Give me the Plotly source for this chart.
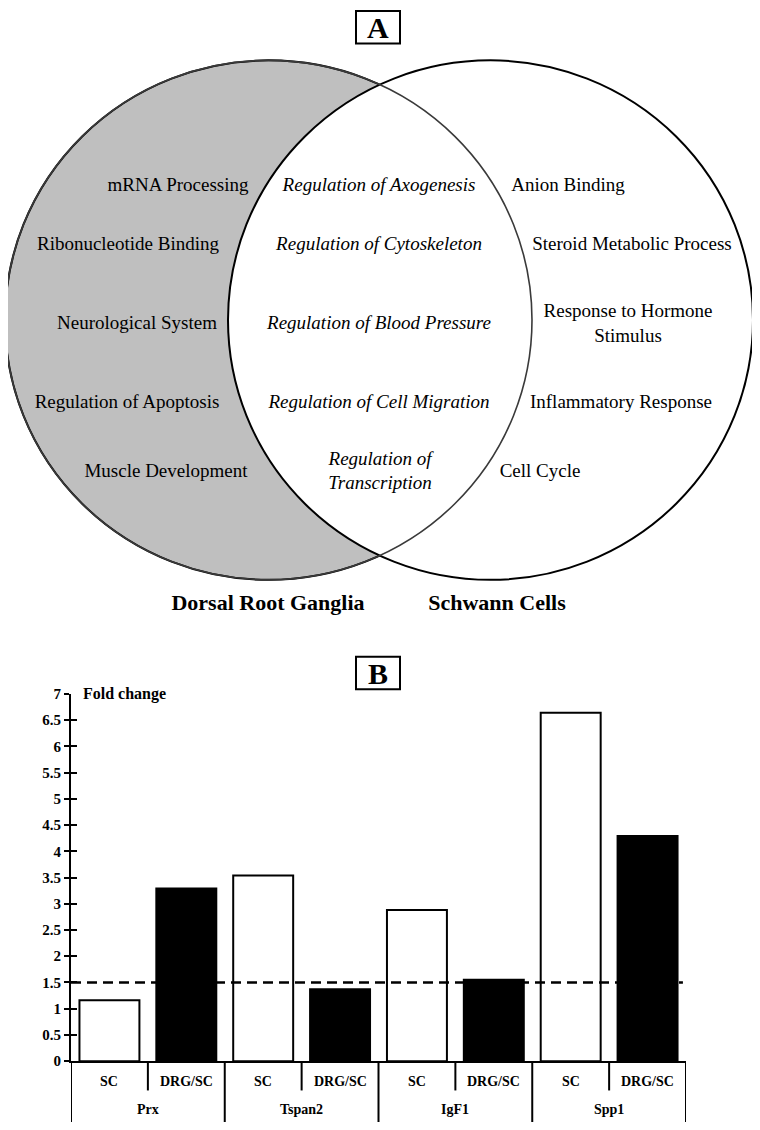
import plotly.graph_objects as go

# ── Data ──────────────────────────────────────────────────────────────────────

drg_only_terms = ["mRNA Processing", "Ribonucleotide Binding", "Neurological System",
                  "Regulation of Apoptosis", "Muscle Development"]
shared_terms = ["Regulation of Axogenesis", "Regulation of Cytoskeleton",
                "Regulation of Blood Pressure", "Regulation of Cell Migration",
                "Regulation of<br>Transcription"]
sc_only_terms = ["Anion Binding", "Steroid Metabolic Process",
                 "Response to Hormone<br>Stimulus", "Inflammatory Response", "Cell Cycle"]
set_names = ["Dorsal Root Ganglia", "Schwann Cells"]

genes = ["Prx", "Tspan2", "IgF1", "Spp1"]
conditions = ["SC", "DRG/SC"]
sc_fold = [1.16, 3.54, 2.88, 6.64]
drg_sc_fold = [3.29, 1.37, 1.55, 4.29]
threshold = 1.5

# ── Layout helpers (page pixel positions) ────────────────────────────────────
# the page body has an 8px margin, so the figure itself is 8px smaller

OFF = 8
W, H = 760 - OFF, 1130 - OFF
VENN_BOTTOM = 640
left_circle = dict(x0=5, x1=532, y0=53, y1=580)
right_circle = dict(x0=228, x1=753, y0=53, y1=580)
row_y = [181, 241, 321, 401, 471]
drg_x = [178, 128, 137, 127, 166]
shared_x = [379, 379, 379, 379, 380]
sc_x = [568, 632, 628, 621, 540]
SERIF = "Liberation Serif, Times New Roman, serif"


def px_x(p):
    return (p - OFF) / W


def px_y(p):
    return 1 - (p - OFF) / H


fig = go.Figure()

# ── Panel A: Venn diagram ────────────────────────────────────────────────────

for terms, xs, italic in [(drg_only_terms, drg_x, False),
                          (shared_terms, shared_x, True),
                          (sc_only_terms, sc_x, False)]:
    fig.add_trace(go.Scatter(
        x=xs, y=row_y, xaxis="x2", yaxis="y2",
        mode="text",
        text=[f"<i>{t}</i>" if italic else t for t in terms],
        textposition="middle center",
        textfont=dict(family=SERIF, size=19, color="black"),
        hoverinfo="skip", showlegend=False,
    ))

fig.add_trace(go.Scatter(
    x=[268, 497], y=[605, 605], xaxis="x2", yaxis="y2",
    mode="text", text=[f"<b>{n}</b>" for n in set_names],
    textposition="middle center",
    textfont=dict(family=SERIF, size=22, color="black"),
    hoverinfo="skip", showlegend=False, cliponaxis=False,
))

shapes = [
    dict(type="circle", xref="x2", yref="y2", **left_circle,
         fillcolor="#bfbfbf", line=dict(color="black", width=2), layer="below"),
    dict(type="circle", xref="x2", yref="y2", **right_circle,
         fillcolor="white", line=dict(color="black", width=2), layer="below"),
    dict(type="circle", xref="x2", yref="y2", **left_circle,
         fillcolor="rgba(0,0,0,0)", line=dict(color="#3a3a3a", width=1.6), layer="below"),
]

# panel letter boxes
annotations = []
for letter, top in [("A", 3), ("B", 658)]:
    shapes.append(dict(type="rect", xref="paper", yref="paper",
                       x0=px_x(356), x1=px_x(400), y0=px_y(top), y1=px_y(top + 33),
                       line=dict(color="black", width=2)))
    annotations.append(dict(text=f"<b>{letter}</b>", xref="paper", yref="paper",
                            x=px_x(378), y=px_y(top + 17), xanchor="center", yanchor="middle",
                            showarrow=False, font=dict(family=SERIF, size=30, color="black")))

# ── Panel B: fold-change bars ────────────────────────────────────────────────

sc_pos = [2 * i for i in range(len(genes))]
drg_pos = [2 * i + 1 for i in range(len(genes))]

fig.add_trace(go.Bar(
    x=sc_pos, y=sc_fold, width=0.78, name="SC",
    marker=dict(color="white", line=dict(color="black", width=2)),
    hovertemplate="%{y:.2f}<extra>SC</extra>",
))
fig.add_trace(go.Bar(
    x=drg_pos, y=drg_sc_fold, width=0.78, name="DRG/SC",
    marker=dict(color="black", line=dict(color="black", width=2)),
    hovertemplate="%{y:.2f}<extra>DRG/SC</extra>",
))
# carrier for the inward half of the crossing y ticks
fig.add_trace(go.Scatter(x=[None], y=[None], yaxis="y3", showlegend=False, hoverinfo="skip"))

n_cat = 2 * len(genes)
y_base = px_y(1068.3)

shapes.append(dict(type="line", xref="x", yref="y", x0=-0.5, x1=7.46, y0=threshold, y1=threshold,
                   line=dict(color="black", width=2.5, dash="10px,6px"), layer="above"))

for b in range(n_cat + 1):
    bx = b - 0.5
    outer = b % 2 == 0
    shapes.append(dict(type="line", xref="x", yref="paper", x0=bx, x1=bx,
                       y0=y_base, y1=0 if outer else px_y(1098),
                       line=dict(color="black", width=2)))

for i in range(n_cat):
    annotations.append(dict(text=f"<b>{conditions[i % 2]}</b>", xref="x", yref="paper",
                            x=i, y=px_y(1089), yanchor="middle", showarrow=False,
                            font=dict(family=SERIF, size=14, color="black")))
for g, gene in enumerate(genes):
    annotations.append(dict(text=f"<b>{gene}</b>", xref="x", yref="paper",
                            x=2 * g + 0.5, y=px_y(1117), yanchor="middle", showarrow=False,
                            font=dict(family=SERIF, size=14, color="black")))

annotations.append(dict(text="<b>Fold change</b>", xref="paper", yref="y",
                        x=px_x(81), y=7, xanchor="left", yanchor="middle", showarrow=False,
                        font=dict(family=SERIF, size=16, color="black")))

y_dom = [px_y(1068.3), px_y(695.7)]
x_dom = [px_x(71), px_x(686)]

fig.update_layout(
    width=W, height=H, autosize=False,
    margin=dict(l=0, r=0, t=0, b=0),
    plot_bgcolor="white", paper_bgcolor="white",
    showlegend=False, barmode="overlay",
    font=dict(family=SERIF, color="black"),
    xaxis=dict(domain=x_dom, range=[-0.5, n_cat - 0.5], showgrid=False, zeroline=False,
               showticklabels=False, ticks="", showline=True, linecolor="black",
               linewidth=2, anchor="y", fixedrange=True),
    yaxis=dict(domain=y_dom, range=[0, 7], tick0=0, dtick=0.5, showgrid=False,
               zeroline=False, ticks="outside", ticklen=5, tickwidth=2, tickcolor="black",
               showline=True, linecolor="black", linewidth=2, anchor="x",
               tickfont=dict(family=SERIF, size=15, color="black", weight="bold"),
               fixedrange=True),
    yaxis3=dict(overlaying="y", anchor="x", side="left", range=[0, 7], tick0=0, dtick=0.5,
                ticks="inside", ticklen=6, tickwidth=2, tickcolor="black",
                showticklabels=False, showgrid=False, zeroline=False, showline=False,
                fixedrange=True),
    xaxis2=dict(domain=[0, 1], range=[OFF, OFF + W], visible=False, anchor="y2", fixedrange=True),
    yaxis2=dict(domain=[px_y(VENN_BOTTOM), 1], range=[VENN_BOTTOM, OFF], visible=False,
                anchor="x2", fixedrange=True),
    shapes=shapes,
    annotations=annotations,
)

fig.write_html("out.html")
